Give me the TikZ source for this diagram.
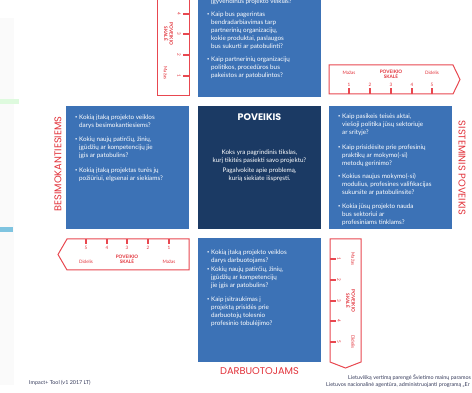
\documentclass[tikz,border=0pt]{standalone}
\usepackage{fontspec}
\setmainfont{Lato}
\newfontfamily\headfont{Poppins}
\definecolor{boxblue}{RGB}{60,114,182}
\definecolor{navy}{RGB}{27,58,100}
\definecolor{redtxt}{RGB}{226,50,58}
\definecolor{redline}{RGB}{232,72,80}
\definecolor{foot}{RGB}{55,60,92}
\newcommand\qq[5]{%
  \node[bul] (#1b) at (#2,#4-3.6) {\rule{0pt}{5pt}{\fontsize{4}{4}\selectfont\raisebox{0.6pt}{\textbullet}}};
  \node[qtext] (#1) at (#3,#4-3.6) {\rule{0pt}{5pt}#5};}
\tikzset{
  panel/.style={fill=boxblue, draw=none, anchor=north west, inner sep=0, minimum width=123pt, minimum height=123pt},
  qtext/.style={anchor=north west, inner sep=0, align=left, text=white, font=\fontsize{6.3}{8}\selectfont},
  bul/.style={anchor=north west, inner sep=0, text=white, font=\fontsize{6.3}{8}\selectfont},
  sidehead/.style={text=redtxt, font=\headfont\fontsize{9.8}{11}\selectfont, inner sep=0},
  scaleline/.style={draw=redline, line width=1pt, line join=miter},
  scaletick/.style={draw=redline, line width=1.3pt},
  scalenum/.style={text=redtxt, font=\fontsize{4.6}{5}\selectfont, inner sep=0},
  scalehead/.style={text=redtxt, font=\bfseries\fontsize{4.7}{5.6}\selectfont, align=center, inner sep=0},
  foottext/.style={text=foot, font=\fontsize{5.4}{6}\selectfont, inner sep=0, anchor=west}
}
\begin{document}
\begin{tikzpicture}[x=1pt,y=-1pt]
\useasboundingbox (0,0) rectangle (472,393);
\clip (0,0) rectangle (472,393);
\fill[white] (0,0) rectangle (472,393);
% faint page bleed at the left edge
\fill[gray!4] (0,18) rectangle (14,385);
\fill[gray!25!green!15] (0,99) rectangle (19,104);
\fill[boxblue!70!cyan!60] (0,227) rectangle (13,232);

% panels
\node[panel, minimum height=110pt] (top) at (198,-13) {};
\node[panel] (left) at (66,106) {};
\node[panel, fill=navy] (centre) at (198,106) {};
\node[panel] (right) at (329,106) {};
\node[panel, minimum height=124pt] (bottom) at (198,238) {};

% top panel text
\node[qtext] (t0) at (211,2-3.6) {\rule{0pt}{5pt}įgyvendinus projekto veiklas?};
\qq{t1}{207}{211}{15}{Kaip bus pagerintas\\bendradarbiavimas tarp\\partnerinių organizacijų,\\kokie produktai, paslaugos\\bus sukurti ar patobulinti?}
\qq{t2}{207}{211}{60}{Kaip partnerinių organizacijų\\politikos, procedūros bus\\pakeistos ar patobulintos?}

% left panel text
\qq{l1}{75}{79}{118}{Kokią įtaką projekto veiklos\\darys besimokantiesiems?}
\qq{l2}{75}{79}{140}{Kokių naujų patirčių, žinių,\\įgūdžių ar kompetencijų jie\\įgis ar patobulins?}
\qq{l3}{75}{79}{171}{Kokią įtaką projektas turės jų\\požiūriui, elgsenai ar siekiams?}

% centre panel text
\node[text=white, font=\headfont\bfseries\fontsize{9.5}{10}\selectfont, inner sep=0] (ctitle) at (259.5,117) {POVEIKIS};
\node[text=white, font=\fontsize{6.3}{8}\selectfont, align=center, inner sep=0, anchor=north] (c1) at (259.5,153-3.6) {\rule{0pt}{5pt}Koks yra pagrindinis tikslas,\\kurį tikitės pasiekti savo projektu?};
\node[text=white, font=\fontsize{6.3}{8}\selectfont, align=center, inner sep=0, anchor=north] (c2) at (259.5,171-3.6) {\rule{0pt}{5pt}Pagalvokite apie problemą,\\kurią siekiate išspręsti.};

% right panel text
\qq{r1}{338}{342}{117}{Kaip pasikeis teisės aktai,\\viešoji politika jūsų sektoriuje\\ar srityje?}
\qq{r2}{338}{342}{148}{Kaip prisidėsite prie profesinių\\praktikų ar mokymo(-si)\\metodų gerinimo?}
\qq{r3}{338}{342}{177}{Kokius naujus mokymo(-si)\\modulius, profesines valifikacijas\\sukursite ar patobulinsite?}
\qq{r4}{338}{342}{207}{Kokia jūsų projekto nauda\\bus sektoriui ar\\profesiniams tinklams?}

% bottom panel text
\qq{b1}{207}{211}{253}{Kokią įtaką projekto veiklos\\darys darbuotojams?}
\qq{b2}{207}{211}{270}{Kokių naujų patirčių, žinių,\\įgūdžių ar kompetencijų\\jie įgis ar patobulins?}
\qq{b3}{207}{211}{300}{Kaip įsitraukimas į\\projektą prisidės prie\\darbuotojų tolesnio\\profesinio tobulėjimo?}

% side headings
\node[sidehead, rotate=90] (hleft) at (58,164) {BESIMOKANTIESIEMS};
\node[sidehead, rotate=-90] (hright) at (462,168) {SISTEMINIS POVEIKIS};
\node[sidehead] (hbottom) at (259.5,371) {DARBUOTOJAMS};

% ---- scale: top (vertical, pointing up, cut off)
\draw[scaleline] (189,-20) -- (189,96) -- (157,96) -- (157,-20);
\foreach \n/\yy in {4/14,3/34,2/55,1/76}{
  \draw[scaletick] (183,\yy) -- (189,\yy);
  \node[scalenum, rotate=-90] (tn\n) at (179,\yy) {\n};
}
\draw[scaletick] (183,-7) -- (189,-7);
\node[scalehead, rotate=-90] (tsk) at (168.5,34) {POVEIKIO\\SKALĖ};
\node[scalenum, rotate=-90] (tlo) at (165.5,73) {Mažas};

% ---- scale: right (horizontal, pointing right)
\draw[scaleline] (329,65) -- (453,65) -- (460,79.5) -- (453,94) -- (329,94) -- cycle;
\foreach \n/\xx in {1/349,2/370,3/391,4/412,5/432}{
  \draw[scaletick] (\xx,88.5) -- (\xx,94);
  \node[scalenum] (rn\n) at (\xx,85) {\n};
}
\node[scalehead] (rsk) at (391,74.5) {POVEIKIO\\SKALĖ};
\node[scalenum] (rlo) at (349,73) {Mažas};
\node[scalenum] (rhi) at (432,73) {Didelis};

% ---- scale: left (horizontal, pointing left)
\draw[scaleline] (189,239) -- (67,239) -- (58,254.5) -- (67,270) -- (189,270) -- cycle;
\foreach \n/\xx in {5/86,4/107,3/127,2/148,1/169}{
  \draw[scaletick] (\xx,239) -- (\xx,244.5);
  \node[scalenum] (ln\n) at (\xx,248) {\n};
}
\node[scalehead] (lsk) at (127,259.5) {POVEIKIO\\SKALĖ};
\node[scalenum] (lhi) at (86,262) {Didelis};
\node[scalenum] (llo) at (169,262) {Mažas};

% ---- scale: bottom right (vertical, pointing down)
\draw[scaleline] (330,239) -- (361,239) -- (361,362) -- (345.5,368) -- (330,362) -- cycle;
\foreach \n/\yy in {1/259,2/280,3/301,4/321,5/342}{
  \draw[scaletick] (330,\yy) -- (335.5,\yy);
  \node[scalenum, rotate=-90] (bn\n) at (339,\yy) {\n};
}
\node[scalehead, rotate=-90] (bsk) at (350.5,301) {POVEIKIO\\SKALĖ};
\node[scalenum, rotate=-90] (blo) at (353,259) {Mažas};
\node[scalenum, rotate=-90] (bhi) at (353,342) {Didelis};

% footers
\node[foottext] (fl) at (29,383) {Impact+ Tool (v1 2017 LT)};
\node[foottext] (fr1) at (348,378) {Lietuvišką vertimą parengė Švietimo mainų paramos};
\node[foottext] (fr2) at (326,385) {Lietuvos nacionalinė agentūra, administruojanti programą „Er};
\end{tikzpicture}
\end{document}
